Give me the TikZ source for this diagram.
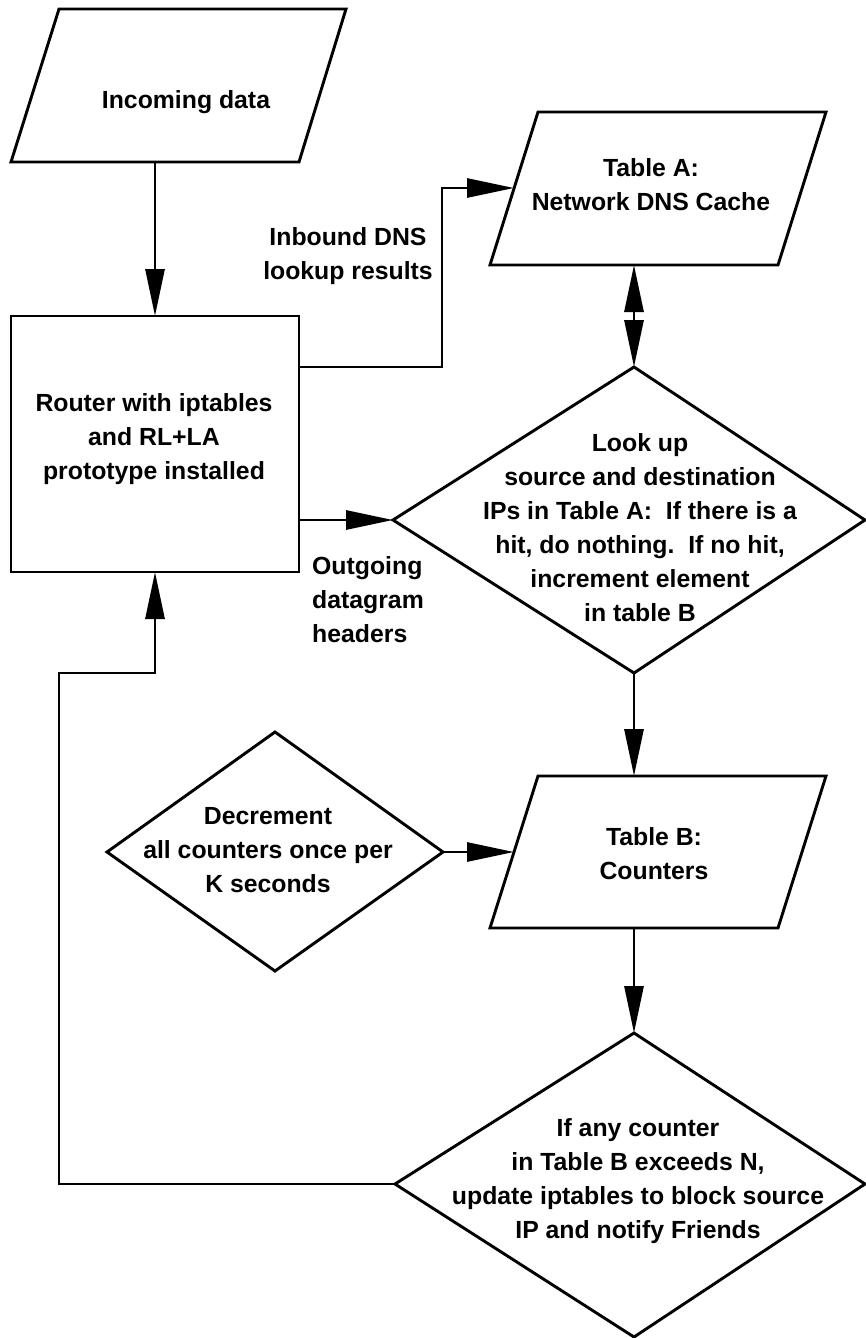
\documentclass[tikz,border=0pt]{standalone}
\usepackage{fontspec}
\setmainfont{Liberation Sans}
\usetikzlibrary{arrows.meta}
\begin{document}
\begin{tikzpicture}[x=1pt,y=-1pt,
  outline/.style={draw=black, line width=2.9pt, line join=miter, fill=white},
  flow/.style={draw=black, line width=2.9pt, -{Triangle[length=47pt,width=19pt]}},
  both/.style={draw=black, line width=2.9pt, {Triangle[length=47pt,width=19pt]}-{Triangle[length=47pt,width=19pt]}},
  lbl/.style={font=\fontsize{24.8}{34}\selectfont\bfseries, align=center, inner sep=0pt}]
\fill[white] (0,0) rectangle (865,1338);
\useasboundingbox (0,0) rectangle (865,1338);

% Incoming data (input parallelogram)
\coordinate (inNW) at (59,9);
\coordinate (inNE) at (346,9);
\coordinate (inSE) at (299,162);
\coordinate (inSW) at (11,162);
\coordinate (inS) at (155,162);
\draw[outline] (inNW) -- (inNE) -- (inSE) -- (inSW) -- cycle;
\node[lbl, anchor=base] (intext) at (186,108) {Incoming data};

% Router box
\node[outline, minimum width=288pt, minimum height=256pt, inner sep=0pt, outer sep=0pt] (router) at (155,444) {};
\node[lbl] (routertext) at (154,439) {Router with iptables\\and RL+LA\\prototype installed};
\coordinate (rDns) at (299,367);
\coordinate (rOut) at (299,520);
\coordinate (rBack) at (155,572);

% Table A (parallelogram)
\coordinate (aNW) at (538,112);
\coordinate (aNE) at (826,112);
\coordinate (aSE) at (778,265);
\coordinate (aSW) at (490,265);
\draw[outline] (aNW) -- (aNE) -- (aSE) -- (aSW) -- cycle;
\node[lbl] (atext) at (651,185) {Table A:\\Network DNS Cache};
\coordinate (aIn) at (514,188);
\coordinate (aS) at (634,265);

% Look-up decision
\coordinate (d1N) at (634,367);
\coordinate (d1E) at (865,520);
\coordinate (d1S) at (634,673);
\coordinate (d1W) at (393,520);
\draw[outline] (d1N) -- (d1E) -- (d1S) -- (d1W) -- cycle;
\node[lbl] (d1text) at (640,528) {Look up\\source and destination\\IPs in Table A:\ \ If there is a\\hit, do nothing.\ \ If no hit,\\increment element\\in table B};

% Table B (parallelogram)
\coordinate (bNW) at (538,776);
\coordinate (bNE) at (826,776);
\coordinate (bSE) at (778,928);
\coordinate (bSW) at (490,928);
\draw[outline] (bNW) -- (bNE) -- (bSE) -- (bSW) -- cycle;
\node[lbl] (btext) at (654,854) {Table B:\\Counters};
\coordinate (bN) at (634,776);
\coordinate (bIn) at (514,852);
\coordinate (bS) at (634,928);

% Decrement decision
\coordinate (d2N) at (275,732);
\coordinate (d2E) at (443,852);
\coordinate (d2S) at (275,971);
\coordinate (d2W) at (107,852);
\draw[outline] (d2N) -- (d2E) -- (d2S) -- (d2W) -- cycle;
\node[lbl] (d2text) at (268,850) {Decrement\\all counters once per\\K seconds};

% Threshold decision
\coordinate (d3N) at (634,1033);
\coordinate (d3E) at (865,1184);
\coordinate (d3S) at (634,1337);
\coordinate (d3W) at (395,1184);
\draw[outline] (d3N) -- (d3E) -- (d3S) -- (d3W) -- cycle;
\node[lbl] (d3text) at (638,1181) {If any counter\\in Table B exceeds N,\\update iptables to block source\\IP and notify Friends};

% Edge labels
\node[lbl] (dnslbl) at (348,256) {Inbound DNS\\lookup results};
\node[lbl, align=left, anchor=west] (outlbl) at (312,600) {Outgoing\\datagram\\headers};

% Bend points of the routed connectors
\coordinate (dnsUp) at (442,367);
\coordinate (dnsTop) at (442,188);
\coordinate (backA) at (59,1184);
\coordinate (backB) at (59,673);
\coordinate (backC) at (155,673);

% Connectors
\draw[flow] (inS) -- (router.north);
\draw[flow] (rDns) -- (dnsUp) -- (dnsTop) -- (aIn);
\draw[flow] (rOut) -- (d1W);
\draw[both] (aS) -- (d1N);
\draw[flow] (d1S) -- (bN);
\draw[flow] (d2E) -- (bIn);
\draw[flow] (bS) -- (d3N);
\draw[flow] (d3W) -- (backA) -- (backB) -- (backC) -- (rBack);
\end{tikzpicture}
\end{document}
